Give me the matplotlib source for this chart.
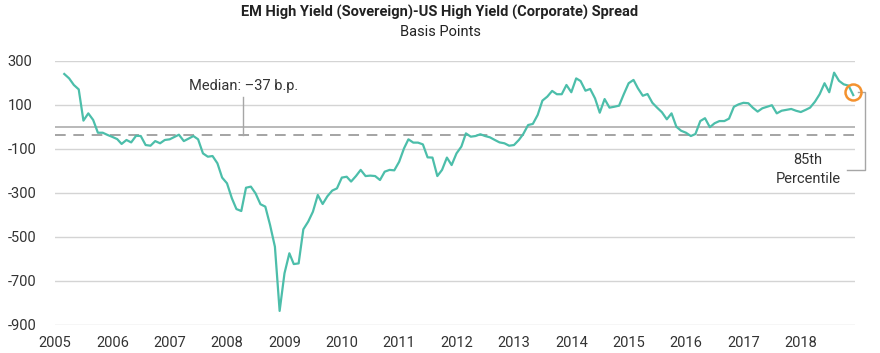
import matplotlib
matplotlib.use("Agg")
import matplotlib.pyplot as plt
import matplotlib.dates as mdates
import pandas as pd
import numpy as np

plt.rcParams['font.family'] = ['Liberation Sans Narrow', 'Roboto', 'DejaVu Sans']

title = "EM High Yield (Sovereign)-US High Yield (Corporate) Spread"
subtitle = "Basis Points"
start_month = "2005-03-01"
spread_values = [
    241, 221, 191, 171, 29, 62, 32, -26, -26, -36,
    -45, -55, -77, -59, -70, -40, -41, -82, -85, -64,
    -74, -59, -56, -45, -35, -64, -53, -41, -56, -120,
    -135, -132, -165, -230, -256, -324, -373, -382, -276, -271,
    -302, -351, -362, -445, -544, -836, -665, -574, -623, -620,
    -465, -430, -385, -309, -350, -315, -289, -279, -230, -226,
    -248, -223, -195, -223, -221, -223, -241, -203, -195, -197,
    -158, -97, -56, -71, -71, -79, -138, -139, -223, -195,
    -139, -173, -120, -89, -29, -44, -41, -33, -41, -47,
    -59, -70, -74, -85, -82, -59, -32, 9, 14, 55,
    120, 138, 164, 149, 149, 191, 158, 221, 209, 165,
    173, 130, 65, 127, 88, 92, 97, 149, 199, 214,
    176, 142, 150, 110, 88, 67, 35, 62, 1, -17,
    -26, -41, -32, 27, 40, -1, 17, 27, 27, 38,
    92, 103, 110, 108, 88, 70, 85, 92, 99, 62,
    74, 78, 82, 74, 68, 78, 88, 115, 149, 199,
    158, 247, 210, 194, 188, 145,
]
median_value = -37
median_label = "Median: \u201337 b.p."
percentile_label = "85th\nPercentile"
percentile_marker_value = 160
y_ticks = [300, 100, -100, -300, -500, -700, -900]

dates = pd.date_range(start_month, periods=len(spread_values), freq="MS")

W, H = 880, 353
fig = plt.figure(figsize=(W / 100, H / 100), dpi=100)
ax = fig.add_axes([55 / W, 28 / H, 800 / W, 264 / H])

line_color = "#4cbeaa"
text_color = "#333333"
grid_color = "#d4d4d4"

ax.plot(dates, spread_values, color=line_color, lw=1.6, zorder=5, clip_on=False)

ax.set_ylim(-900, 300)
ax.set_xlim(pd.Timestamp("2005-01-01"), pd.Timestamp("2018-12-12"))
ax.set_yticks(y_ticks)
ax.set_yticklabels([str(v) for v in y_ticks])
for lbl in ax.get_yticklabels():
    lbl.set_horizontalalignment("left")
ax.tick_params(axis="y", length=0, pad=34, labelsize=10.5, labelcolor=text_color)
ax.xaxis.set_major_locator(mdates.YearLocator())
ax.xaxis.set_major_formatter(mdates.DateFormatter("%Y"))
ax.tick_params(axis="x", length=0, pad=8, labelsize=10.5, labelcolor=text_color)
ax.grid(axis="y", color=grid_color, lw=1)
ax.set_axisbelow(True)
for s in ax.spines.values():
    s.set_visible(False)

# zero line and median line
ax.axhline(0, color="#a6a6a6", lw=1.1, zorder=2)
ax.axhline(median_value, color="#8c8c8c", lw=1.1, dashes=(7, 5), zorder=2)

# median annotation
mx = pd.Timestamp("2008-04-15")
ax.plot([mx, mx], [median_value, 136], color="#a6a6a6", lw=1, zorder=3)
ax.text(mx, 186, median_label, ha="center", va="center", fontsize=10.5, color=text_color)

# percentile circle & bracket
last_date = dates[-1]
ax.plot([last_date], [percentile_marker_value], marker="o", ms=11.5, mfc="none",
        mec="#f4922f", mew=1.8, zorder=6, clip_on=False)
bx0 = pd.Timestamp("2019-01-01")
bx1 = pd.Timestamp("2019-02-15")
bx2 = pd.Timestamp("2018-10-25")
by_bottom = -195
ax.plot([bx0, bx1, bx1, bx2], [percentile_marker_value, percentile_marker_value, by_bottom, by_bottom],
        color="#a6a6a6", lw=1, clip_on=False, zorder=3)
ax.text(pd.Timestamp("2018-02-15"), -195, percentile_label, ha="center", va="center",
        fontsize=10.5, color=text_color, linespacing=1.45)

fig.text(0.5, 1 - 12 / H, title, ha="center", va="center", fontsize=10.5,
         fontweight="bold", color="#222222")
fig.text(0.5, 1 - 32 / H, subtitle, ha="center", va="center", fontsize=10.5, color="#222222")

fig.savefig("out.png", dpi=100)
